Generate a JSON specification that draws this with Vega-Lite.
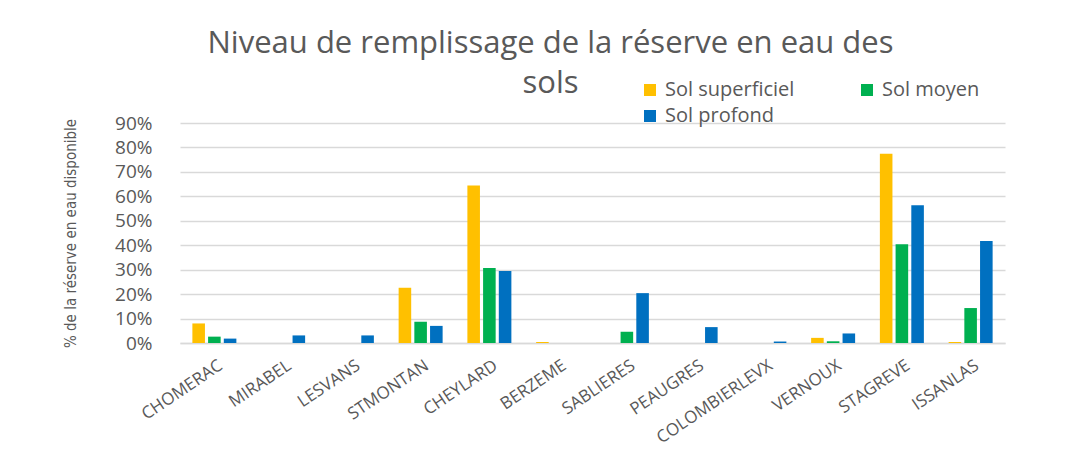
{
  "$schema": "https://vega.github.io/schema/vega-lite/v6.json",
  "autosize": {"type": "none"},
  "padding": {"left": 180, "top": 123, "right": 60, "bottom": 119},
  "width": 825,
  "height": 220,
  "background": "white",
  "title": {
    "text": ["Niveau de remplissage de la réserve en eau des", "sols"],
    "font": "Open Sans",
    "fontSize": 31,
    "fontWeight": "normal",
    "color": "#595959",
    "anchor": "middle",
    "dx": -42,
    "dy": 50,
    "offset": 30,
    "lineHeight": 40
  },
  "data": {
    "values": [
      {"station": "CHOMERAC", "sol": "Sol superficiel", "v": 0.08},
      {"station": "CHOMERAC", "sol": "Sol moyen", "v": 0.026},
      {"station": "CHOMERAC", "sol": "Sol profond", "v": 0.018},
      {"station": "MIRABEL", "sol": "Sol superficiel", "v": 0},
      {"station": "MIRABEL", "sol": "Sol moyen", "v": 0},
      {"station": "MIRABEL", "sol": "Sol profond", "v": 0.031},
      {"station": "LESVANS", "sol": "Sol superficiel", "v": 0},
      {"station": "LESVANS", "sol": "Sol moyen", "v": 0},
      {"station": "LESVANS", "sol": "Sol profond", "v": 0.031},
      {"station": "STMONTAN", "sol": "Sol superficiel", "v": 0.226},
      {"station": "STMONTAN", "sol": "Sol moyen", "v": 0.087},
      {"station": "STMONTAN", "sol": "Sol profond", "v": 0.07},
      {"station": "CHEYLARD", "sol": "Sol superficiel", "v": 0.644},
      {"station": "CHEYLARD", "sol": "Sol moyen", "v": 0.307},
      {"station": "CHEYLARD", "sol": "Sol profond", "v": 0.295},
      {"station": "BERZEME", "sol": "Sol superficiel", "v": 0.004},
      {"station": "BERZEME", "sol": "Sol moyen", "v": 0},
      {"station": "BERZEME", "sol": "Sol profond", "v": 0},
      {"station": "SABLIERES", "sol": "Sol superficiel", "v": 0},
      {"station": "SABLIERES", "sol": "Sol moyen", "v": 0.046},
      {"station": "SABLIERES", "sol": "Sol profond", "v": 0.204},
      {"station": "PEAUGRES", "sol": "Sol superficiel", "v": 0},
      {"station": "PEAUGRES", "sol": "Sol moyen", "v": 0},
      {"station": "PEAUGRES", "sol": "Sol profond", "v": 0.065},
      {"station": "COLOMBIERLEVX", "sol": "Sol superficiel", "v": 0},
      {"station": "COLOMBIERLEVX", "sol": "Sol moyen", "v": 0},
      {"station": "COLOMBIERLEVX", "sol": "Sol profond", "v": 0.006},
      {"station": "VERNOUX", "sol": "Sol superficiel", "v": 0.021},
      {"station": "VERNOUX", "sol": "Sol moyen", "v": 0.007},
      {"station": "VERNOUX", "sol": "Sol profond", "v": 0.039},
      {"station": "STAGREVE", "sol": "Sol superficiel", "v": 0.774},
      {"station": "STAGREVE", "sol": "Sol moyen", "v": 0.404},
      {"station": "STAGREVE", "sol": "Sol profond", "v": 0.564},
      {"station": "ISSANLAS", "sol": "Sol superficiel", "v": 0.004},
      {"station": "ISSANLAS", "sol": "Sol moyen", "v": 0.143},
      {"station": "ISSANLAS", "sol": "Sol profond", "v": 0.417}
    ]
  },
  "mark": {"type": "bar"},
  "encoding": {
    "x": {
      "field": "station",
      "type": "nominal",
      "sort": null,
      "scale": {"paddingInner": 0.36, "paddingOuter": 0.18},
      "axis": {
        "title": null,
        "labelAngle": -34,
        "labelFont": "Open Sans",
        "labelFontSize": 17,
        "labelColor": "#595959",
        "labelOffset": 2,
        "labelPadding": 14,
        "ticks": false,
        "domainColor": "#d9d9d9",
        "domainWidth": 1.5,
        "grid": false
      }
    },
    "xOffset": {
      "field": "sol",
      "type": "nominal",
      "sort": ["Sol superficiel", "Sol moyen", "Sol profond"],
      "scale": {"paddingInner": 0.2}
    },
    "y": {
      "field": "v",
      "type": "quantitative",
      "scale": {"domain": [0, 0.9], "nice": false},
      "axis": {
        "title": "% de la réserve en eau disponible",
        "titleFont": "DejaVu Sans Condensed",
        "titleFontSize": 15,
        "titleFontWeight": "normal",
        "titleColor": "#595959",
        "titlePadding": 36,
        "format": ".0%",
        "values": [0, 0.1, 0.2, 0.3, 0.4, 0.5, 0.6, 0.7, 0.8, 0.9],
        "labelFont": "Open Sans",
        "labelFontSize": 19,
        "labelColor": "#595959",
        "labelPadding": 28,
        "ticks": false,
        "domain": false,
        "gridColor": "#d9d9d9",
        "gridWidth": 1.5
      }
    },
    "color": {
      "field": "sol",
      "type": "nominal",
      "scale": {
        "domain": ["Sol superficiel", "Sol profond", "Sol moyen"],
        "range": ["#FFC000", "#0070C0", "#00B050"]
      },
      "legend": {
        "title": null,
        "orient": "none",
        "legendX": 460,
        "legendY": -43,
        "columns": 2,
        "columnPadding": 62,
        "rowPadding": 6,
        "symbolType": "square",
        "symbolSize": 144,
        "symbolStrokeWidth": 0,
        "labelFont": "Open Sans",
        "labelFontSize": 20,
        "labelColor": "#595959",
        "labelOffset": 5
      }
    }
  },
  "config": {"view": {"stroke": null}}
}
